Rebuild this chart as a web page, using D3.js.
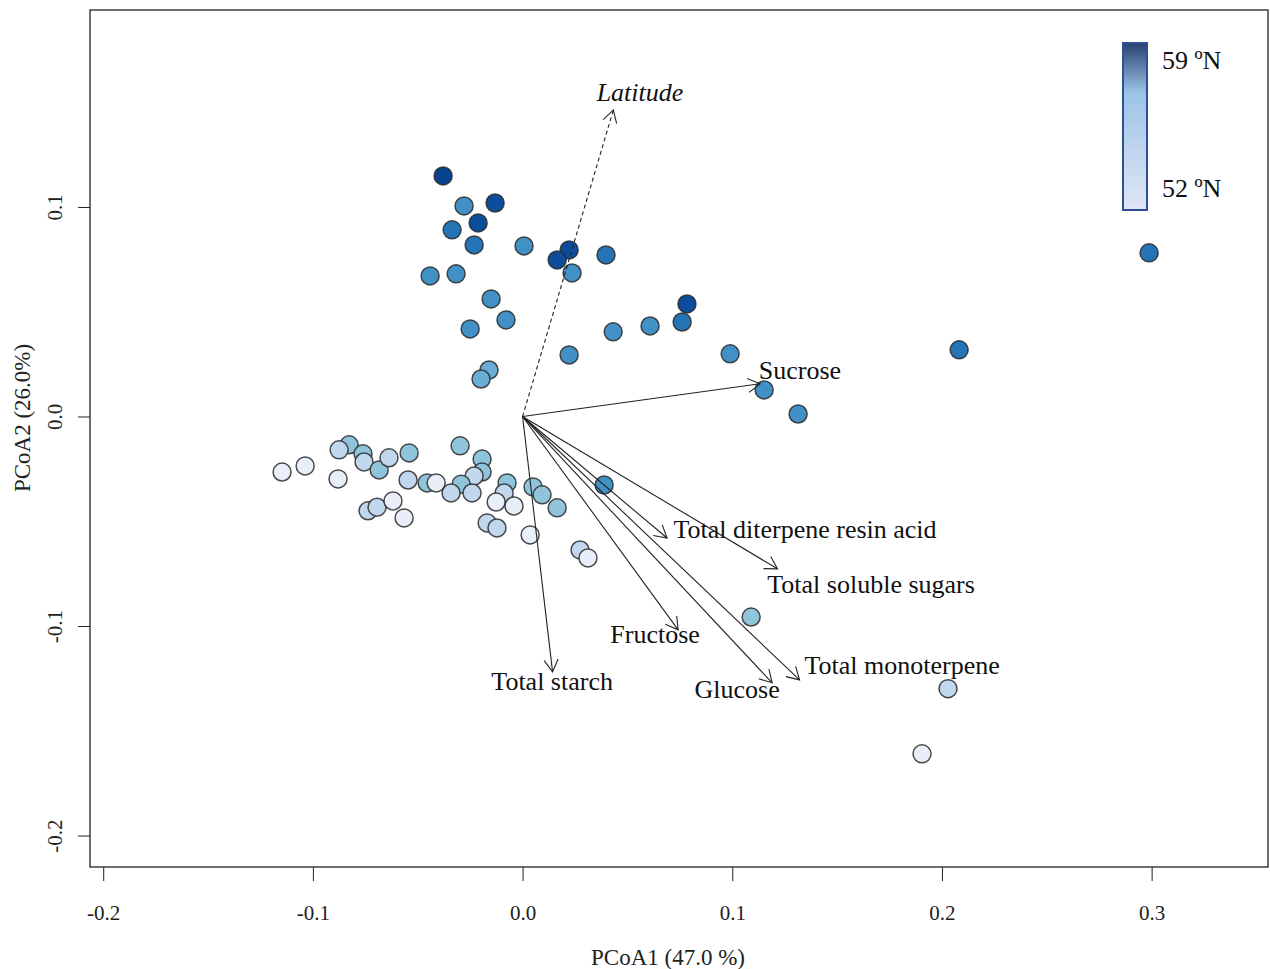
<!DOCTYPE html>
<html>
<head>
<meta charset="utf-8">
<script src="https://cdn.jsdelivr.net/npm/d3@7"></script>
<style>
  body { margin: 0; background: #fff; }
  svg { font-family: "Liberation Serif", "DejaVu Serif", serif; }
</style>
</head>
<body>
<svg id="chart" width="1270" height="969"></svg>
<script>
// site scores on the first two PCoA axes, with latitude of origin
var pcoa1 = [-0.0379,-0.0279,-0.0131,-0.0212,-0.0336,-0.0231,0.0007,0.0222,0.0165,0.0236,
  0.0398,-0.0441,-0.0317,-0.0150,0.0784,-0.0250,-0.0079,0.0432,0.0608,0.0761,
  0.0990,0.0222,-0.0160,-0.0198,0.1152,0.1314,0.2082,0.2988,0.0389,
  -0.1147,-0.1037,-0.0880,-0.0827,-0.0875,-0.0761,-0.0756,-0.0684,-0.0637,-0.0541,
  -0.0546,-0.0455,-0.0412,-0.0737,-0.0694,-0.0618,-0.0565,-0.0298,-0.0193,-0.0193,
  -0.0231,-0.0293,-0.0341,-0.0241,-0.0074,-0.0088,-0.0126,-0.0041,0.0050,0.0093,
  0.0165,-0.0169,-0.0122,0.0036,0.0274,0.0312,0.1090,0.2029,0.1905];
var pcoa2 = [0.1148,0.1005,0.1019,0.0924,0.0891,0.0819,0.0814,0.0795,0.0747,0.0685,
  0.0771,0.0671,0.0681,0.0561,0.0537,0.0418,0.0461,0.0404,0.0432,0.0451,
  0.0299,0.0294,0.0222,0.0179,0.0127,0.0012,0.0318,0.0781,-0.0327,
  -0.0265,-0.0236,-0.0298,-0.0135,-0.0159,-0.0178,-0.0217,-0.0255,-0.0197,-0.0174,
  -0.0303,-0.0317,-0.0317,-0.0450,-0.0433,-0.0403,-0.0484,-0.0140,-0.0203,-0.0265,
  -0.0284,-0.0323,-0.0365,-0.0365,-0.0317,-0.0365,-0.0408,-0.0427,-0.0336,-0.0374,
  -0.0436,-0.0508,-0.0532,-0.0565,-0.0637,-0.0675,-0.0957,-0.1299,-0.1610];
var latitude = [59,56,58,58,57,57,56,58,58,56,
  57,56,56,56,58,56,56,56,56,57,
  56,56,55,55,56,56,57,57,56,
  52,52,52,54,53,54,53,54,53,54,
  53,54,52,53,53,52,52,54,54,54,
  53,54,53,53,54,53,52,52,54,54,
  54,53,53,52,53,52,54,53,52];

// fitted vectors
var vecNames = ["Latitude","Sucrose","Total diterpene resin acid","Total soluble sugars",
  "Fructose","Total monoterpene","Glucose","Total starch"];
var vecX = [0.0433,0.1133,0.0689,0.1216,0.0742,0.1321,0.1190,0.0143];
var vecY = [0.1463,0.0156,-0.0580,-0.0727,-0.1018,-0.1257,-0.1271,-0.1219];
var labX = [0.0560,0.1323,0.1347,0.1662,0.0632,0.1810,0.1023,0.0141];
var labY = [0.1544,0.0218,-0.0537,-0.0804,-0.1042,-0.1186,-0.1305,-0.1267];

var xTicks = [-0.2,-0.1,0.0,0.1,0.2,0.3];
var yTicks = [-0.2,-0.1,0.0,0.1];
var latLevels = [52,53,54,55,56,57,58,59];
var latColors = ["#e9eff9","#c1d7ed","#8fc4db","#6aaed6","#4191c6","#2474b6","#0b4d9b","#08418f"];

var svg = d3.select("#chart");
var plotL = 90, plotR = 1268, plotT = 10, plotB = 867;

var x = d3.scaleLinear().domain([-0.2063, 0.3555]).range([plotL, plotR]);
var y = d3.scaleLinear().domain([-0.215, 0.194]).range([plotB, plotT]);
var col = d3.scaleOrdinal().domain(latLevels).range(latColors);
var fmt = function(d){ return d.toFixed(1); };

// axes
var xAxis = svg.append("g").attr("transform","translate(0,"+plotB+")")
  .call(d3.axisBottom(x).tickValues(xTicks).tickSize(14).tickPadding(24).tickFormat(fmt));
xAxis.select(".domain").remove();
xAxis.selectAll("line").attr("stroke","#222");
xAxis.selectAll("text").attr("font-size",21).attr("font-family","Liberation Serif").attr("fill","#222");

var yAxis = svg.append("g").attr("transform","translate("+plotL+",0)")
  .call(d3.axisLeft(y).tickValues(yTicks).tickSize(12).tickFormat(fmt));
yAxis.select(".domain").remove();
yAxis.selectAll("line").attr("stroke","#222");
yAxis.selectAll("text").remove();
yAxis.selectAll(".tick").append("text")
  .attr("transform","translate(-28,0) rotate(-90)")
  .attr("text-anchor","middle")
  .attr("font-size",21).attr("font-family","Liberation Serif").attr("fill","#222")
  .text(fmt);

svg.append("rect").attr("x",plotL).attr("y",plotT).attr("width",plotR-plotL).attr("height",plotB-plotT)
  .attr("fill","none").attr("stroke","#222").attr("stroke-width",1.3);

svg.append("text").attr("x",668).attr("y",965).attr("text-anchor","middle")
  .attr("font-size",23).attr("fill","#222").text("PCoA1 (47.0 %)");
svg.append("text").attr("transform","translate(30,418) rotate(-90)").attr("text-anchor","middle")
  .attr("font-size",23).attr("fill","#222").text("PCoA2 (26.0%)");

// points
var pts = pcoa1.map(function(d,i){ return {x:d, y:pcoa2[i], lat:latitude[i]}; });
svg.append("g").selectAll("circle").data(pts).enter().append("circle")
  .attr("cx",function(d){return x(d.x);})
  .attr("cy",function(d){return y(d.y);})
  .attr("r",9)
  .attr("fill",function(d){return col(d.lat);})
  .attr("stroke","#2a2a2a").attr("stroke-opacity",0.85).attr("stroke-width",1.5);

// vectors
var vecs = vecNames.map(function(n,i){ return {name:n, x:vecX[i], y:vecY[i], lx:labX[i], ly:labY[i]}; });
var vg = svg.append("g");
vecs.forEach(function(v,i){
  var x0 = x(0), y0 = y(0), x1 = x(v.x), y1 = y(v.y);
  var ang = Math.atan2(y1-y0, x1-x0), len = 14, spread = Math.PI/6;
  var dash = i===0 ? "4,3" : null;
  vg.append("line").attr("x1",x0).attr("y1",y0).attr("x2",x1).attr("y2",y1)
    .attr("stroke","#222").attr("stroke-width",1.1).attr("stroke-dasharray",dash);
  vg.append("path")
    .attr("d","M"+(x1-len*Math.cos(ang-spread))+","+(y1-len*Math.sin(ang-spread))+
      "L"+x1+","+y1+"L"+(x1-len*Math.cos(ang+spread))+","+(y1-len*Math.sin(ang+spread)))
    .attr("fill","none").attr("stroke","#222").attr("stroke-width",1.1);
  vg.append("text").attr("x",x(v.lx)).attr("y",y(v.ly))
    .attr("text-anchor","middle").attr("dominant-baseline","central")
    .attr("font-size",26).attr("fill","#111")
    .attr("font-style", i===0 ? "italic" : "normal")
    .text(v.name);
});

// colour bar legend
var grad = svg.append("defs").append("linearGradient").attr("id","latgrad")
  .attr("x1",0).attr("y1",0).attr("x2",0).attr("y2",1);
grad.append("stop").attr("offset","0%").attr("stop-color","#28426f");
grad.append("stop").attr("offset","30%").attr("stop-color","#9cc4e7");
grad.append("stop").attr("offset","65%").attr("stop-color","#c0d5ee");
grad.append("stop").attr("offset","100%").attr("stop-color","#dfe6f6");
svg.append("rect").attr("x",1123).attr("y",43).attr("width",24).attr("height",167)
  .attr("fill","url(#latgrad)").attr("stroke","#2c4f96").attr("stroke-width",2);
svg.append("text").attr("x",1162).attr("y",60).attr("dominant-baseline","central")
  .attr("font-size",26).attr("fill","#111").text("59 ºN");
svg.append("text").attr("x",1162).attr("y",188).attr("dominant-baseline","central")
  .attr("font-size",26).attr("fill","#111").text("52 ºN");
</script>
</body>
</html>
